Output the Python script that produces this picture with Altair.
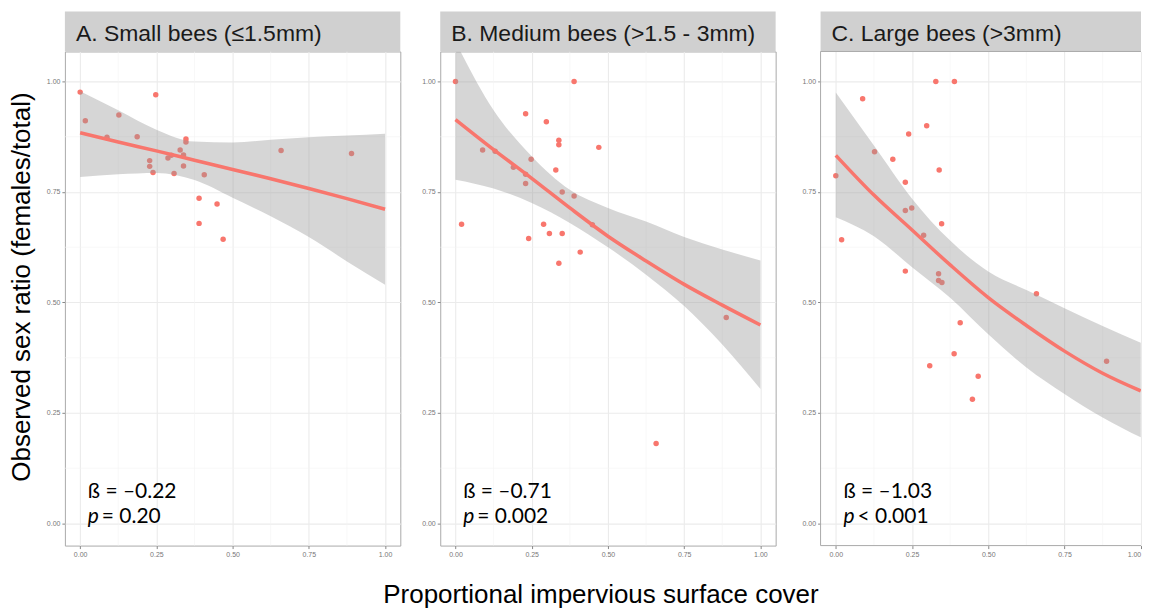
import altair as alt
import pandas as pd

# ---------------- data ----------------
titles = ["A. Small bees (≤1.5mm)", "B. Medium bees (>1.5 - 3mm)", "C. Large bees (>3mm)"]
betas = ["ß = –0.22", "ß = –0.71", "ß = –1.03"]
pvals = ["= 0.20", "= 0.002", "< 0.001"]

a_x = [0.000, 0.017, 0.248, 0.127, 0.088, 0.187, 0.347, 0.347, 0.328, 0.339, 0.299, 0.288,
       0.228, 0.228, 0.239, 0.308, 0.339, 0.407, 0.659, 0.890, 0.390, 0.449, 0.390, 0.469]
a_y = [0.976, 0.911, 0.970, 0.924, 0.874, 0.875, 0.870, 0.863, 0.845, 0.834, 0.833, 0.827,
       0.821, 0.808, 0.794, 0.792, 0.809, 0.789, 0.844, 0.837, 0.736, 0.723, 0.679, 0.643]

b_x = [0.000, 0.389, 0.230, 0.298, 0.339, 0.339, 0.470, 0.089, 0.130, 0.248, 0.190, 0.329, 0.230,
       0.230, 0.350, 0.389, 0.020, 0.449, 0.289, 0.308, 0.350, 0.240, 0.409, 0.339, 0.888, 0.658]
b_y = [1.000, 1.000, 0.927, 0.909, 0.867, 0.857, 0.851, 0.845, 0.842, 0.824, 0.806, 0.800, 0.790,
       0.769, 0.750, 0.741, 0.677, 0.676, 0.677, 0.656, 0.656, 0.645, 0.614, 0.589, 0.466, 0.181]

c_x = [0.328, 0.389, 0.088, 0.298, 0.239, 0.127, 0.187, 0.339, 0.000, 0.228, 0.228, 0.249, 0.347,
       0.288, 0.019, 0.228, 0.337, 0.337, 0.348, 0.658, 0.408, 0.388, 0.308, 0.467, 0.448, 0.888]
c_y = [1.000, 1.000, 0.961, 0.900, 0.881, 0.841, 0.824, 0.800, 0.787, 0.772, 0.708, 0.714, 0.678,
       0.652, 0.642, 0.571, 0.565, 0.550, 0.545, 0.520, 0.454, 0.384, 0.357, 0.333, 0.281, 0.367]

fit_x = [0.0, 0.125, 0.25, 0.375, 0.5, 0.625, 0.75, 0.875, 1.0]
a_fit = [0.884, 0.863, 0.843, 0.822, 0.801, 0.780, 0.758, 0.735, 0.711]
a_lo = [0.784, 0.790, 0.793, 0.777, 0.737, 0.695, 0.648, 0.593, 0.540]
a_hi = [0.978, 0.935, 0.891, 0.864, 0.862, 0.868, 0.874, 0.878, 0.882]

b_fit = [0.914, 0.846, 0.781, 0.714, 0.650, 0.594, 0.541, 0.494, 0.449]
b_lo = [0.778, 0.758, 0.725, 0.680, 0.625, 0.563, 0.492, 0.405, 0.304]
b_hi = [1.090, 0.935, 0.831, 0.755, 0.714, 0.683, 0.648, 0.620, 0.595]

c_fit = [0.833, 0.743, 0.664, 0.585, 0.511, 0.448, 0.390, 0.340, 0.300]
c_lo = [0.693, 0.650, 0.580, 0.511, 0.428, 0.353, 0.293, 0.240, 0.195]
c_hi = [0.975, 0.855, 0.735, 0.640, 0.570, 0.528, 0.487, 0.447, 0.409]

major_ticks = [0.0, 0.25, 0.5, 0.75, 1.0]
minor_ticks = [0.125, 0.375, 0.625, 0.875]

# ---------------- styling ----------------
W, H = 336, 495
RED = "#F8766D"
BORDER = "#AAAAAA"
yscale = alt.Scale(domain=[-0.05, 1.068], nice=False, zero=False)
yaxis = alt.Axis(values=major_ticks, format=".2f", title=None, labelFlush=False)


def panel(title, px, py, fit, lo, hi, beta, pval, width=W, xmax=1.05,
          ytitle=False, xtitle=False, open_right=False):
    xscale = alt.Scale(domain=[-0.05, xmax], nice=False, zero=False)
    # the last panel is cut by the figure edge: keep its end label inside the figure
    xaxis = alt.Axis(values=major_ticks, format=".2f", title=None, labelFlush=open_right)
    pts = pd.DataFrame({"x": px, "y": py})
    fitdf = pd.DataFrame({"x": fit_x, "fit": fit, "lo": lo, "hi": hi})
    minor = pd.DataFrame({"m": minor_ticks})
    one = pd.DataFrame({"t": [title]})

    X = alt.X("x:Q", scale=xscale, axis=xaxis)
    layers = [
        alt.Chart(minor).mark_rule(color="#F4F4F4", strokeWidth=0.6).encode(
            x=alt.X("m:Q", scale=xscale, axis=xaxis)),
        alt.Chart(minor).mark_rule(color="#F4F4F4", strokeWidth=0.6).encode(
            y=alt.Y("m:Q", scale=yscale, axis=yaxis)),
        alt.Chart(pts).mark_circle(size=30, color=RED, opacity=1).encode(
            x=X, y=alt.Y("y:Q", scale=yscale, axis=yaxis)),
        alt.Chart(fitdf).mark_area(color="#999999", opacity=0.4, interpolate="monotone", clip=True).encode(
            x=X, y=alt.Y("lo:Q", scale=yscale, axis=yaxis), y2="hi:Q"),
        alt.Chart(fitdf).mark_line(color=RED, strokeWidth=3.5, interpolate="monotone", clip=True).encode(
            x=X, y=alt.Y("fit:Q", scale=yscale, axis=yaxis)),
        alt.Chart(one).mark_rect(color="#D0D0D0").encode(
            x=alt.value(0), x2=alt.value(width), y=alt.value(-40), y2=alt.value(0)),
        alt.Chart(one).mark_text(align="left", baseline="alphabetic", fontSize=23,
                                 font="Liberation Sans", color="#1A1A1A").encode(
            x=alt.value(11), y=alt.value(-10), text="t:N"),
        alt.Chart(pd.DataFrame({"t": [beta]})).mark_text(
            align="left", baseline="alphabetic", fontSize=21, font="Lato", color="#000").encode(
            x=alt.value(23), y=alt.value(447), text="t:N"),
        alt.Chart(pd.DataFrame({"t": ["p"]})).mark_text(
            align="left", baseline="alphabetic", fontSize=21, font="Lato", fontStyle="italic",
            color="#000").encode(x=alt.value(23), y=alt.value(472), text="t:N"),
        alt.Chart(pd.DataFrame({"t": [pval]})).mark_text(
            align="left", baseline="alphabetic", fontSize=21, font="Lato", color="#000").encode(
            x=alt.value(37), y=alt.value(472), text="t:N"),
    ]
    if open_right:
        # panel runs off the right edge of the figure: border on left, top and bottom only
        layers += [
            alt.Chart(one).mark_rule(color=BORDER, strokeWidth=1).encode(
                x=alt.value(0), y=alt.value(0), y2=alt.value(H)),
            alt.Chart(one).mark_rule(color=BORDER, strokeWidth=1).encode(
                x=alt.value(0), x2=alt.value(width), y=alt.value(0)),
            alt.Chart(one).mark_rule(color=BORDER, strokeWidth=1).encode(
                x=alt.value(0), x2=alt.value(width), y=alt.value(H)),
        ]
    if ytitle:
        layers.append(alt.Chart(pd.DataFrame({"t": ["Observed sex ratio (females/total)"]})).mark_text(
            align="center", baseline="middle", angle=270, fontSize=26, font="Liberation Sans",
            color="#000").encode(x=alt.value(-43), y=alt.value(236), text="t:N"))
    if xtitle:
        layers.append(alt.Chart(pd.DataFrame({"t": ["Proportional impervious surface cover"]})).mark_text(
            align="center", baseline="middle", fontSize=26, font="Liberation Sans",
            color="#000").encode(x=alt.value(161), y=alt.value(545), text="t:N"))
    ch = alt.layer(*layers).properties(width=width, height=H)
    if open_right:
        ch = ch.properties(view=alt.ViewBackground(stroke="transparent"))
    return ch


pA = panel(titles[0], a_x, a_y, a_fit, a_lo, a_hi, betas[0], pvals[0], ytitle=True)
pB = panel(titles[1], b_x, b_y, b_fit, b_lo, b_hi, betas[1], pvals[1], xtitle=True)
pC = panel(titles[2], c_x, c_y, c_fit, c_lo, c_hi, betas[2], pvals[2],
           width=321, xmax=-0.05 + 321 / 305.45, open_right=True)

chart = alt.hconcat(
    pA, alt.hconcat(pB, pC, spacing=45, bounds="flush"), spacing=40, bounds="flush"
).properties(
    padding={"left": 0, "top": 2, "right": 0, "bottom": 0}
).configure_view(
    stroke=BORDER, strokeWidth=1
).configure_axis(
    grid=True, gridColor="#EBEBEB", gridWidth=1.1, domain=False,
    tickColor="#888888", tickSize=3, labelFontSize=7, labelColor="#777777",
    labelPadding=2, labelFont="Liberation Sans"
)

chart.save("out.html", embed_options={"renderer": "svg", "actions": False})
